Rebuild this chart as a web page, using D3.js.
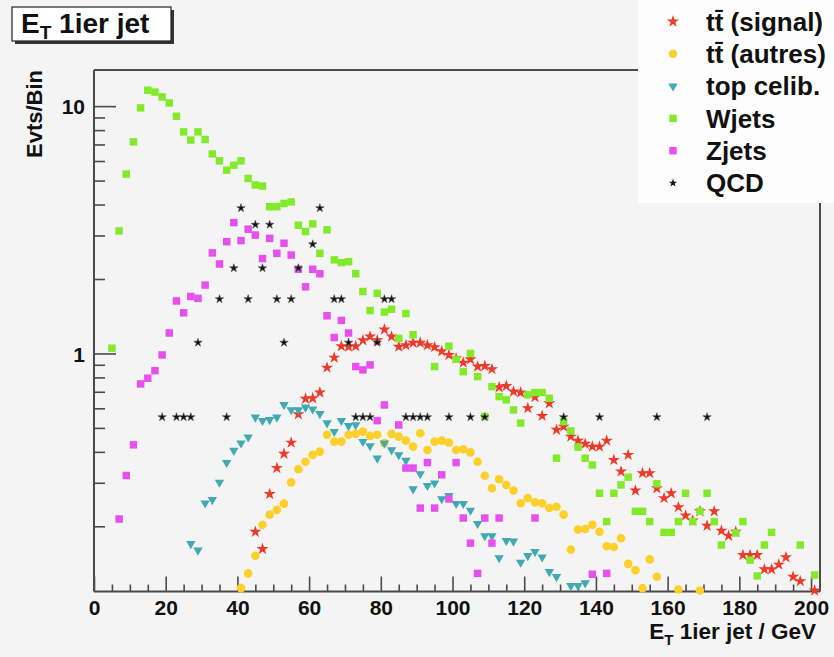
<!DOCTYPE html>
<html><head><meta charset="utf-8">
<script src="https://cdn.jsdelivr.net/npm/d3@7"></script>
<style>
html,body{margin:0;padding:0;background:#f4f4f4;}
svg{display:block;font-family:"Liberation Sans",Arial,Helvetica,sans-serif;font-weight:bold;}
</style>
</head><body>
<svg id="c" width="834" height="657"></svg>
<script>
// ---- data: [bin centre (GeV), events per bin] ----
const signal = [[45,0.19],[47,0.162],[49,0.27],[51,0.344],[53,0.393],[55,0.436],[57,0.568],[59,0.656],[61,0.659],[63,0.695],[65,0.876],[67,0.962],[69,1.07],[71,1.065],[73,1.07],[75,1.13],[77,1.17],[79,1.13],[81,1.25],[83,1.17],[85,1.065],[87,1.08],[89,1.105],[91,1.105],[93,1.08],[95,1.06],[97,1.02],[99,0.986],[101,0.956],[103,0.918],[105,0.947],[107,0.885],[109,0.89],[111,0.864],[113,0.73],[115,0.739],[117,0.701],[119,0.695],[121,0.601],[123,0.666],[125,0.559],[127,0.629],[129,0.491],[131,0.506],[133,0.461],[135,0.444],[137,0.431],[139,0.42],[141,0.42],[143,0.444],[145,0.371],[147,0.333],[149,0.389],[151,0.279],[153,0.328],[155,0.328],[157,0.285],[159,0.26],[161,0.272],[163,0.239],[165,0.221],[167,0.211],[169,0.23],[171,0.201],[173,0.23],[175,0.192],[177,0.183],[179,0.19],[181,0.153],[183,0.153],[185,0.153],[187,0.134],[189,0.134],[191,0.14],[193,0.15],[195,0.125],[197,0.12],[201,0.11]];
const autres = [[41,0.1125],[43,0.129],[45,0.152],[47,0.203],[49,0.223],[51,0.233],[53,0.247],[55,0.301],[57,0.34],[59,0.365],[61,0.389],[63,0.401],[65,0.469],[67,0.44],[69,0.44],[71,0.469],[73,0.473],[75,0.483],[77,0.464],[79,0.469],[81,0.434],[83,0.473],[85,0.461],[87,0.444],[89,0.42],[91,0.476],[93,0.407],[95,0.44],[97,0.444],[99,0.436],[101,0.407],[103,0.41],[105,0.398],[107,0.365],[109,0.32],[111,0.285],[113,0.31],[115,0.294],[117,0.279],[119,0.248],[121,0.26],[123,0.25],[125,0.248],[127,0.237],[129,0.24],[131,0.223],[133,0.161],[135,0.194],[137,0.195],[139,0.203],[141,0.19],[143,0.166],[145,0.165],[147,0.179],[149,0.141],[151,0.133],[153,0.1125],[155,0.147],[157,0.125],[163,0.111],[169,0.11]];
const topCelib = [[27,0.17],[29,0.16],[31,0.248],[33,0.256],[35,0.301],[37,0.362],[39,0.405],[41,0.434],[43,0.459],[45,0.552],[47,0.535],[49,0.539],[51,0.552],[53,0.62],[55,0.591],[57,0.591],[59,0.606],[61,0.595],[63,0.57],[65,0.523],[67,0.483],[69,0.535],[71,0.51],[73,0.514],[75,0.44],[77,0.423],[79,0.377],[81,0.434],[83,0.407],[85,0.389],[87,0.369],[89,0.283],[91,0.326],[93,0.292],[95,0.299],[97,0.258],[99,0.266],[101,0.247],[103,0.247],[105,0.232],[107,0.205],[109,0.183],[111,0.183],[113,0.149],[115,0.175],[117,0.174],[119,0.143],[121,0.152],[123,0.158],[125,0.15],[127,0.131],[129,0.125],[133,0.115],[135,0.115],[137,0.118]];
const wjets = [[5,1.05],[7,3.13],[9,5.31],[11,7.17],[13,9.84],[15,11.6],[17,11.4],[19,10.9],[21,10.3],[23,9.1],[25,7.87],[27,7.29],[29,7.87],[31,7.33],[33,6.41],[35,6.01],[37,5.51],[39,5.77],[41,6.01],[43,5.1],[45,4.8],[47,4.75],[49,3.92],[51,3.92],[53,4.04],[55,4.1],[57,3.3],[59,3.11],[61,3.34],[63,2.54],[65,3.16],[67,2.39],[69,2.33],[71,2.35],[73,2.1],[75,1.78],[77,1.49],[79,1.75],[81,1.47],[83,1.51],[85,1.15],[87,1.45],[89,1.19],[95,0.885],[99,1.07],[101,0.947],[103,0.844],[105,1.0],[107,0.806],[109,0.556],[111,0.734],[113,0.669],[115,0.649],[117,0.591],[119,0.523],[121,0.68],[123,0.695],[125,0.695],[127,0.659],[129,0.377],[131,0.53],[133,0.486],[135,0.418],[137,0.377],[139,0.354],[141,0.272],[143,0.209],[145,0.272],[147,0.294],[149,0.316],[151,0.23],[153,0.23],[155,0.209],[157,0.297],[159,0.189],[161,0.189],[163,0.209],[165,0.272],[167,0.209],[169,0.23],[171,0.272],[173,0.209],[175,0.168],[179,0.188],[181,0.209],[183,0.146],[185,0.126],[187,0.168],[189,0.189],[197,0.168],[201,0.127]];
const zjets = [[7,0.214],[9,0.321],[11,0.427],[13,0.753],[15,0.794],[17,0.852],[19,0.986],[21,1.21],[23,1.63],[25,1.46],[27,1.7],[29,1.67],[31,1.89],[33,2.55],[35,2.3],[37,2.83],[39,3.38],[41,2.86],[43,3.18],[45,3.01],[47,2.42],[49,2.92],[51,2.54],[53,2.79],[55,2.5],[57,2.19],[59,1.86],[61,2.19],[63,2.1],[65,1.42],[67,1.16],[69,1.36],[71,1.21],[73,0.885],[75,0.858],[77,0.899],[79,0.535],[81,0.619],[85,0.514],[87,0.344],[89,0.344],[91,0.237],[93,0.362],[95,0.237],[97,0.323],[99,0.258],[101,0.362],[103,0.216],[105,0.171],[107,0.129],[109,0.216],[111,0.171],[113,0.216],[123,0.216],[139,0.128],[143,0.129]];
const qcd = [[19,0.553],[23,0.553],[25,0.553],[27,0.553],[29,1.106],[35,1.659],[37,0.553],[39,2.212],[41,3.871],[43,1.659],[45,3.318],[47,2.212],[49,3.318],[51,1.659],[53,1.106],[55,1.659],[57,2.212],[61,2.765],[63,3.871],[67,1.659],[69,1.659],[71,1.106],[73,0.553],[75,0.553],[77,0.553],[79,1.106],[81,1.659],[83,1.659],[87,0.553],[89,0.553],[91,0.553],[93,0.553],[99,0.553],[105,0.553],[109,0.553],[131,0.553],[141,0.553],[157,0.553],[171,0.553]];

const xTicks = [0,20,40,60,80,100,120,140,160,180,200];
const xMinor = [5,10,15,25,30,35,45,50,55,65,70,75,85,90,95,105,110,115,125,130,135,145,150,155,165,170,175,185,190,195];
const yTicks = [1,10];
const yMinor = [0.2,0.3,0.4,0.5,0.6,0.7,0.8,0.9,2,3,4,5,6,7,8,9];

const seriesDefs = [
  {name:"signal", bar:true, rest:" (signal)", data:signal, color:"#ec3b2b", shape:"star", size:46},
  {name:"autres", bar:true, rest:" (autres)", data:autres, color:"#fccf2a", shape:"circle", size:58},
  {name:"top", label:"top celib.", data:topCelib, color:"#41a9b2", shape:"tri", size:38},
  {name:"wjets", label:"Wjets", data:wjets, color:"#82ea2b", shape:"square", size:56},
  {name:"zjets", label:"Zjets", data:zjets, color:"#e651ee", shape:"square", size:56},
  {name:"qcd", label:"QCD", data:qcd, color:"#111111", shape:"star", size:22}
];

const svg = d3.select("#c");
svg.append("rect").attr("width",834).attr("height",657).attr("fill","#f4f4f4");

const x = d3.scaleLinear().domain([0,202.5]).range([94,820]);
const y = d3.scaleLog().domain([0.109,14]).range([591.5,70]);

const frameColor = "#4a4a4a";
const fr = svg.append("g").attr("stroke",frameColor).attr("stroke-width",2).attr("fill","none");
fr.append("line").attr("x1",x(0)).attr("x2",x(0)).attr("y1",y.range()[1]).attr("y2",y.range()[0]);
fr.append("line").attr("x1",x(0)).attr("x2",x.range()[1]).attr("y1",y.range()[1]).attr("y2",y.range()[1]);
fr.append("line").attr("x1",x.range()[1]).attr("x2",x.range()[1]).attr("y1",y.range()[1]).attr("y2",y.range()[0]);
fr.append("line").attr("x1",x(0)).attr("x2",x.range()[1]).attr("y1",y.range()[0]).attr("y2",y.range()[0]);

const gx = svg.append("g").attr("transform",`translate(0,${y.range()[0]})`)
  .call(d3.axisBottom(x).tickValues(xTicks).tickSize(-15).tickSizeOuter(0).tickPadding(9).tickFormat(d3.format("d")));
const gxm = svg.append("g").attr("transform",`translate(0,${y.range()[0]})`)
  .call(d3.axisBottom(x).tickValues(xMinor).tickSize(-7).tickSizeOuter(0).tickFormat(""));
const gy = svg.append("g").attr("transform",`translate(${x(0)},0)`)
  .call(d3.axisLeft(y).tickValues(yTicks).tickSize(-22).tickSizeOuter(0).tickPadding(9).tickFormat(d3.format("d")));
const gym = svg.append("g").attr("transform",`translate(${x(0)},0)`)
  .call(d3.axisLeft(y).tickValues(yMinor).tickSize(-11).tickSizeOuter(0).tickFormat(""));
[gx,gxm,gy,gym].forEach(g => {
  g.select(".domain").remove();
  g.selectAll(".tick line").attr("stroke",frameColor).attr("stroke-width",1.6);
  g.selectAll("text").attr("fill","#111").attr("font-size",21).attr("font-weight","bold")
   .attr("font-family","Liberation Sans, Arial, sans-serif");
});
gy.selectAll("text").attr("dy","0.36em");

function symPath(shape,size){
  if(shape==="star") return d3.symbol().type(d3.symbolStar).size(size)();
  if(shape==="circle") return d3.symbol().type(d3.symbolCircle).size(size)();
  if(shape==="square") return d3.symbol().type(d3.symbolSquare).size(size)();
  if(shape==="tri") return d3.symbol().type(d3.symbolTriangle).size(size)();
}
seriesDefs.forEach(s => {
  const p = symPath(s.shape,s.size);
  svg.append("g").selectAll("path").data(s.data).join("path")
    .attr("d",p)
    .attr("transform",d => `translate(${x(d[0])},${y(d[1])})` + (s.shape==="tri" ? " rotate(180)" : ""))
    .attr("fill",s.color)
    .attr("stroke", s.name==="qcd" ? "#555" : "none").attr("stroke-width",0.6);
});

// legend
svg.append("rect").attr("x",638).attr("y",0).attr("width",196).attr("height",203).attr("fill","#fdfdfd");
const lg = svg.append("g");
seriesDefs.forEach((s,i) => {
  const cy = 21.5 + i*32.3;
  lg.append("path").attr("d",symPath(s.shape, s.size))
    .attr("transform",`translate(673,${cy})` + (s.shape==="tri" ? " rotate(180)" : ""))
    .attr("fill",s.color);
  const t = lg.append("text").attr("x",706).attr("y",cy).attr("dy","0.36em")
    .attr("font-size",26).attr("fill","#111");
  if (s.bar) {
    t.append("tspan").text("t");
    t.append("tspan").text("t\u0304");
    t.append("tspan").text(s.rest);
  } else t.text(s.label);
});

// title box
svg.append("rect").attr("x",15).attr("y",10).attr("width",159).attr("height",34).attr("fill","#333");
svg.append("rect").attr("x",12).attr("y",7).attr("width",159).attr("height",34).attr("fill","#fff")
  .attr("stroke","#222").attr("stroke-width",1.2);
const tt = svg.append("text").attr("x",21).attr("y",33).attr("font-size",28).attr("fill","#111");
tt.append("tspan").text("E");
tt.append("tspan").attr("font-size",19).attr("dy",6).text("T");
tt.append("tspan").attr("dy",-6).text(" 1ier jet");

// axis titles
const xt = svg.append("text").attr("x",816).attr("y",639).attr("text-anchor","end").attr("font-size",22.5).attr("fill","#111");
xt.append("tspan").text("E");
xt.append("tspan").attr("font-size",15).attr("dy",6).text("T");
xt.append("tspan").attr("dy",-6).text(" 1ier jet / GeV");

svg.append("text").attr("transform","translate(42,70) rotate(-90)").attr("text-anchor","end")
  .attr("font-size",22).attr("fill","#111").text("Evts/Bin");
</script>
</body></html>
